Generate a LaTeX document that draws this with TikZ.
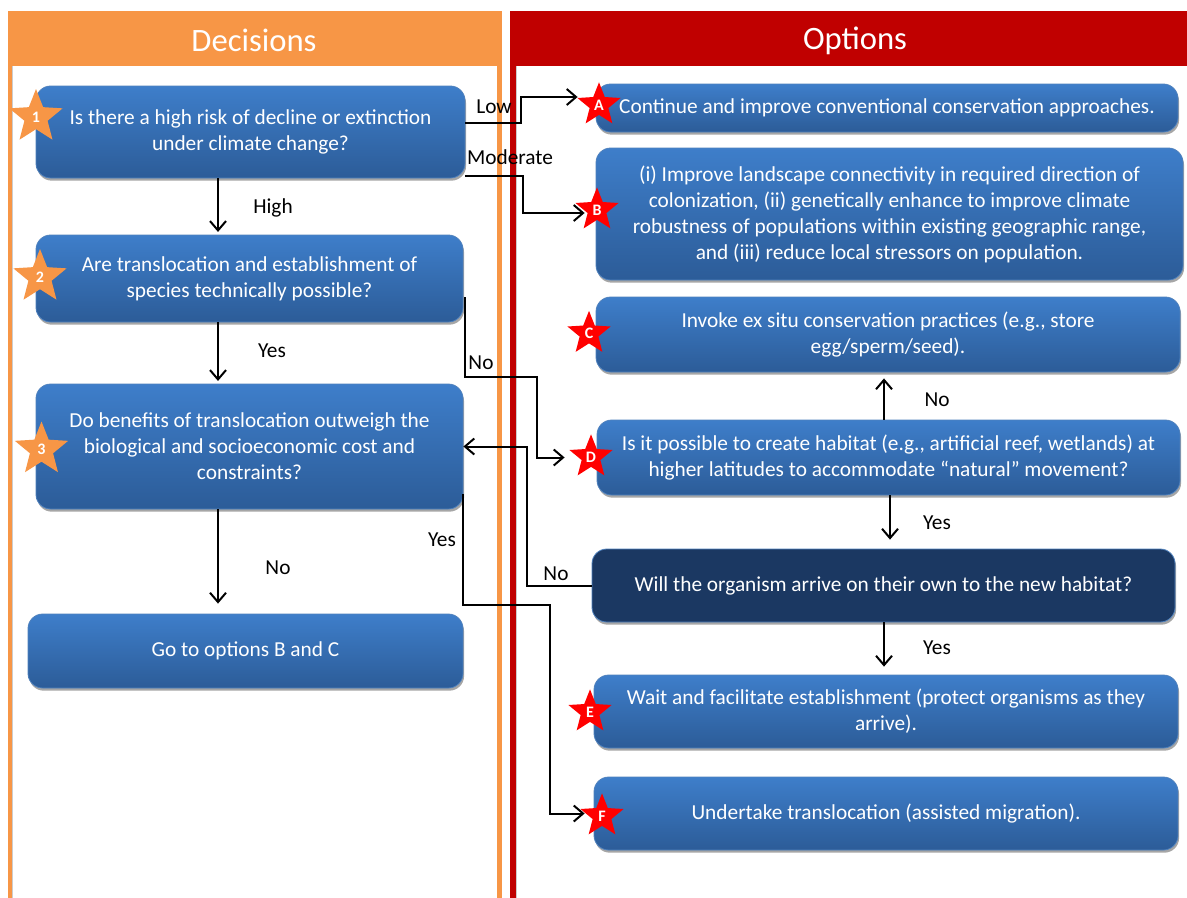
\documentclass[tikz,border=0pt]{standalone}
\usepackage{fontspec}
\setmainfont{Carlito}
\usetikzlibrary{shapes.geometric,arrows.meta,shadows,calc}
\definecolor{panelorange}{HTML}{F79646}
\definecolor{panelred}{HTML}{C00000}
\definecolor{boxtop}{HTML}{3E7ECA}
\definecolor{boxbot}{HTML}{2C5C98}
\definecolor{boxline}{HTML}{4F81BD}
\definecolor{darkfill}{HTML}{1B3862}
\definecolor{starred}{HTML}{FF0000}
\tikzset{
 box/.style={rectangle, rounded corners=11pt, top color=boxtop, bottom color=boxbot, draw=boxline, line width=0.6pt, text=white, align=center, inner sep=2pt, font=\fontsize{16}{19.5}\selectfont, drop shadow={shadow xshift=0.8pt, shadow yshift=-2pt, opacity=0.35, fill=black}},
 darkbox/.style={box, top color=darkfill, bottom color=darkfill},
 ostar/.style={star, star points=5, star point ratio=2.3, fill=panelorange, inner sep=0pt, text=white, font=\fontsize{12}{12}\selectfont\bfseries},
 rstar/.style={ostar, fill=starred},
 conn/.style={line width=1.5pt, -{Straight Barb[length=7pt,width=12pt]}},
 lbl/.style={font=\fontsize{16}{18}\selectfont, inner sep=0pt},
 head/.style={text=white, font=\fontsize{24.5}{28}\selectfont},
}
\begin{document}
\begin{tikzpicture}[x=0.75pt,y=-0.75pt]
\useasboundingbox (0,0) rectangle (1187,897);
\clip (0,0) rectangle (1187,897);
% panels
\fill[panelorange] (8,11) rectangle (502,905);
\fill[white] (12,66) rectangle (497,905);
\draw[black!20, line width=0.5pt] (12.5,66) -- (12.5,905);
\fill[panelred] (510,11) rectangle (1200,905);
\fill[white] (516,66) rectangle (1200,905);
\draw[black!20, line width=0.5pt] (516.5,66) -- (516.5,905);
\node[head] (hdec) at (254,40) {Decisions};
\node[head] (hopt) at (855,41) {Options};
% boxes
\node[box, minimum width=321.75pt, minimum height=69pt] (n1) at (250.5,132) {Is there a high risk of decline or extinction\\under climate change?};
\node[box, minimum width=320.25pt, minimum height=65.25pt] (n2) at (249.5,278.5) {Are translocation and establishment of\\species technically possible?};
\node[box, minimum width=320.25pt, minimum height=93.75pt] (n3) at (249.5,446.5) {Do benefits of translocation outweigh the\\biological and socioeconomic cost and\\constraints?};
\node[box, minimum width=326.25pt, minimum height=55.5pt] (n4) at (245.5,651) {Go to options B and C};
\node[box, minimum width=436.5pt, minimum height=36pt] (A) at (887,108) {Continue and improve conventional conservation approaches.};
\node[box, minimum width=440.25pt, minimum height=99pt] (B) at (889.5,214) {(i) Improve landscape connectivity in required direction of\\colonization, (ii) genetically enhance to improve climate\\robustness of populations within existing geographic range,\\and (iii) reduce local stressors on population.};
\node[box, minimum width=438pt, minimum height=56.25pt] (C) at (888,334.5) {Invoke ex situ conservation practices (e.g., store\\egg/sperm/seed).};
\node[box, minimum width=437.25pt, minimum height=56.25pt] (D) at (888.5,457.5) {Is it possible to create habitat (e.g., artificial reef, wetlands) at\\higher latitudes to accommodate “natural” movement?};
\node[darkbox, minimum width=437.25pt, minimum height=54.75pt] (W) at (883.5,585.5) {Will the organism arrive on their own to the new habitat?};
\node[box, minimum width=438pt, minimum height=54.75pt] (E) at (886,711.5) {Wait and facilitate establishment (protect organisms as they\\arrive).};
\node[box, minimum width=438pt, minimum height=54.75pt] (F) at (886,813.5) {Undertake translocation (assisted migration).};
% connectors
\draw[conn] (n1.east |- 0,123) -- ++(56,0) |- ($(A.west |- 0,97)+(-18,0)$);
\draw[conn] (n1.east |- 0,176) -- ++(58,0) |- ($(B.west |- 0,213)+(-11,0)$);
\draw[conn, shorten >=2pt] (218,0 |- n1.south) -- (218,0 |- n2.north);
\draw[conn, shorten >=2pt] (218,0 |- n2.south) -- (218,0 |- n3.north);
\draw[conn] ($(n2.east |- 0,297)+(2,0)$) -- ++(0,80) -- ++(72,0) |- ($(D.west)+(-32,0)$);
\draw[conn, shorten >=7.5pt] (218,0 |- n3.south) -- (218,0 |- n4.north);
\draw[conn] (W.west) -- ++(-65,0) |- (n3.east);
\draw[conn] (n3.east |- 0,494) -- ++(0,111) -- ++(87,0) |- ($(F.west)+(-9,0)$);
\draw[conn, shorten >=4.5pt] (884,0 |- D.north) -- (884,0 |- C.south);
\draw[conn, shorten >=6.75pt] (890,0 |- D.south) -- (890,0 |- W.north);
\draw[conn, shorten >=6pt] (884,0 |- W.south) -- (884,0 |- E.north);
% labels
\node[lbl] (lLow) at (494,107) {Low};
\node[lbl] (lMod) at (510,157) {Moderate};
\node[lbl] (lHigh) at (273,208) {High};
\node[lbl] (lYes1) at (272,351) {Yes};
\node[lbl] (lNo1) at (481,363) {No};
\node[lbl] (lNo2) at (278,568) {No};
\node[lbl] (lNo3) at (556,574) {No};
\node[lbl] (lYes2) at (442,540) {Yes};
\node[lbl] (lNo4) at (937,400) {No};
\node[lbl] (lYes3) at (937,523) {Yes};
\node[lbl] (lYes4) at (937,648) {Yes};
% stars
\node[ostar, minimum size=42pt] (s1) at (36,117) {1};
\node[ostar, minimum size=42pt] (s2) at (40,277) {2};
\node[ostar, minimum size=42pt] (s3) at (41.5,449.5) {3};
\node[rstar, minimum size=34pt] (sA) at (599,105) {A};
\node[rstar, minimum size=34pt] (sB) at (597,210) {B};
\node[rstar, minimum size=34pt] (sC) at (589,333.5) {C};
\node[rstar, minimum size=34pt] (sD) at (591,457) {D};
\node[rstar, minimum size=34pt] (sE) at (590,712) {E};
\node[rstar, minimum size=34pt] (sF) at (602,816) {F};
\end{tikzpicture}
\end{document}
